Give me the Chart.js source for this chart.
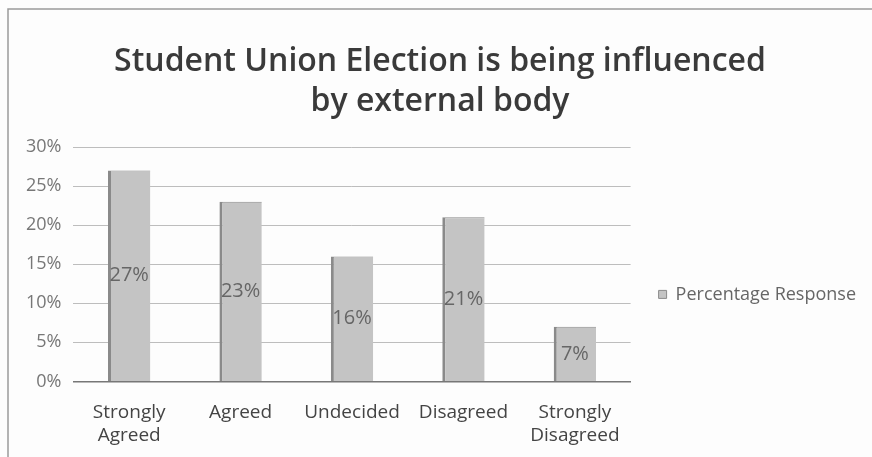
<!DOCTYPE html>
<html><head><meta charset="utf-8">
<script src="https://cdn.jsdelivr.net/npm/chart.js@4/dist/chart.umd.min.js"></script>
<style>html,body{margin:0;padding:0;background:#fff}#wrap{width:872px;height:457px}</style>
</head><body><div id="wrap"><canvas id="c" width="872" height="457"></canvas></div>
<script>
const categories = [["Strongly","Agreed"],"Agreed","Undecided","Disagreed",["Strongly","Disagreed"]];
const seriesName = "Percentage Response";
const values = [27, 23, 16, 21, 7];
const titleLines = ["Student Union Election is being influenced","by external body"];
const yTicks = [0,5,10,15,20,25,30];

const FONT = "'Open Sans', Lato, sans-serif";

const frame = {
  id:'frame',
  beforeDraw(chart){
    const ctx = chart.ctx;
    ctx.save();
    ctx.fillStyle = '#fdfdfd';
    ctx.fillRect(0,0,chart.width,chart.height);
    ctx.strokeStyle = '#9a9a9a';
    ctx.lineWidth = 1.5;
    ctx.beginPath();
    ctx.moveTo(8, 457); ctx.lineTo(8, 9); ctx.lineTo(872, 9);
    ctx.stroke();
    ctx.restore();
  }
};
const labels = {
  id:'labels',
  afterDatasetsDraw(chart){
    const ctx = chart.ctx;
    const meta = chart.getDatasetMeta(0);
    ctx.save();
    ctx.font = "20px " + FONT;
    ctx.fillStyle = '#666';
    ctx.textAlign = 'center';
    ctx.textBaseline = 'middle';
    meta.data.forEach((bar,i)=>{
      const y = (bar.y + bar.base)/2;
      ctx.fillText(values[i] + '%', bar.x, y);
    });
    ctx.restore();
  }
};

new Chart(document.getElementById('c'), {
  type:'bar',
  data:{
    labels: categories,
    datasets:[{
      label: seriesName,
      data: values,
      backgroundColor: '#c4c4c4',
      borderColor: '#8a8a8a',
      borderWidth: {left:3, top:1, right:0, bottom:0},
      borderSkipped: false,
      categoryPercentage: 1,
      barPercentage: 0.38
    }]
  },
  options:{
    responsive:false,
    animation:false,
    layout:{padding:{left:14, right:6, top:12, bottom:-10}},
    plugins:{
      title:{display:true, text:titleLines, color:'#3a3a3a',
        font:{family:FONT, size:32, weight:'600', lineHeight:1.25},
        padding:{top:30, bottom:25}},
      legend:{position:'right', align:'start', maxWidth:400,
        title:{display:true, text:' ', font:{size:12, lineHeight:1.2}, padding:{top:231, bottom:0}},
        labels:{color:'#666', font:{family:FONT, size:18}, boxWidth:8, boxHeight:8, padding:28}},
      tooltip:{enabled:false}
    },
    scales:{
      x:{
        grid:{display:false, drawTicks:false},
        border:{display:true, color:'#777', width:1.5},
        ticks:{color:'#444', font:{family:FONT, size:19, lineHeight:1.2}, padding:20, maxRotation:0, autoSkip:false}
      },
      y:{
        min:0, max:30,
        afterBuildTicks(axis){ axis.ticks = yTicks.map(v=>({value:v})); },
        grid:{color:'#bdbdbd', lineWidth:1, drawTicks:false},
        border:{display:false},
        ticks:{color:'#777', font:{family:FONT, size:18}, padding:12, callback:v=>v+'%'}
      }
    }
  },
  plugins:[frame, labels]
});
</script></body></html>
